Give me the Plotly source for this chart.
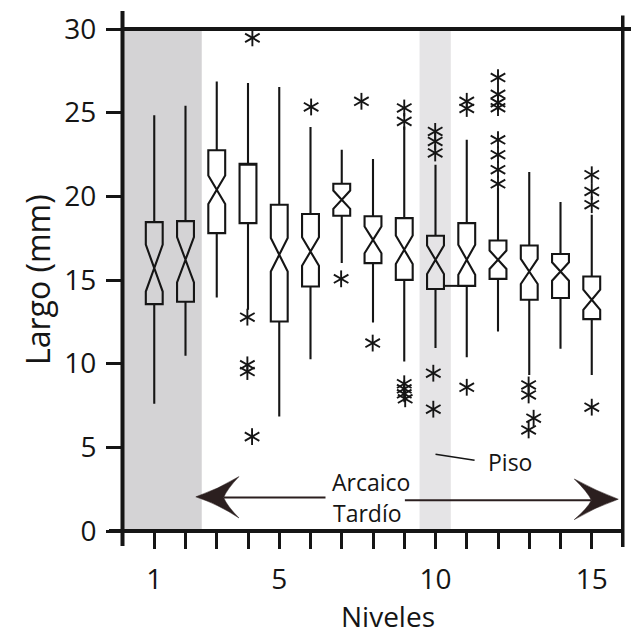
import plotly.graph_objects as go

# ---------------- data ----------------
levels     = [1, 2, 3, 4, 5, 6, 7, 8, 9, 10, 11, 12, 13, 14, 15]
upper      = [24.84, 25.42, 26.87, 26.78, 26.54, 24.14, 22.79, 22.23, 24.18, 21.89, 23.38, 20.50, 21.45, 19.66, 18.90]
q3         = [18.46, 18.52, 22.75, 21.95, 19.50, 18.94, 20.75, 18.81, 18.70, 17.64, 18.40, 17.36, 17.06, 16.55, 15.21]
median     = [15.71, 16.21, 20.39, 21.95, 16.51, 16.70, 19.80, 17.40, 16.81, 16.21, 16.21, 16.21, 15.51, 15.51, 13.82]
q1         = [13.56, 13.70, 17.80, 18.40, 12.52, 14.61, 18.84, 16.01, 15.01, 14.46, 14.65, 15.07, 13.82, 13.92, 12.66]
lower      = [7.60, 10.48, 13.95, 13.22, 6.84, 10.27, 16.01, 12.46, 10.13, 10.93, 10.39, 11.92, 9.33, 10.89, 9.33]
notch_half = [1.40, 1.35, 0.85, 0.00, 1.00, 0.85, 0.55, 0.80, 0.85, 0.85, 0.90, 0.55, 0.75, 0.55, 0.60]

out_x = [4.14, 3.98, 3.98, 3.98, 4.13,
         6.02, 6.98, 7.63, 7.99,
         9.0, 9.0, 9.0, 9.0, 9.0, 9.03,
         9.99, 9.99, 9.99, 9.93, 9.93,
         11.0, 11.0, 11.0,
         12.0, 12.0, 12.0, 12.0, 12.0, 12.0, 12.0, 12.0,
         12.98, 12.98, 13.14, 12.98,
         15.0, 15.0, 15.0, 15.0]
out_y = [29.47, 12.78, 9.93, 9.53, 5.64,
         25.34, 15.07, 25.68, 11.23,
         25.28, 24.48, 8.80, 8.50, 8.20, 7.90,
         23.88, 23.28, 22.59, 9.43, 7.28,
         25.68, 25.25, 8.59,
         27.10, 26.10, 25.60, 25.30, 23.38, 22.49, 21.59, 20.75,
         8.73, 8.13, 6.74, 6.04,
         21.29, 20.29, 19.50, 7.40]

x_ticks = list(range(1, 16))
x_tick_text = ["1", "", "", "", "5", "", "", "", "", "10", "", "", "", "", "15"]
y_ticks = [0, 5, 10, 15, 20, 25, 30]

FONT = "Open Sans"
INK = "#151515"
BOX_W = 0.54

fig = go.Figure()

for i, lv in enumerate(levels):
    notched = notch_half[i] > 0
    kw = dict(notchspan=[notch_half[i]]) if notched else {}
    fig.add_trace(go.Box(
        x=[lv], q1=[q1[i]], median=[median[i]], q3=[q3[i]],
        lowerfence=[lower[i]], upperfence=[upper[i]],
        notched=notched, notchwidth=0.5, width=BOX_W,
        boxpoints=False, whiskerwidth=0,
        line=dict(color=INK, width=2.1),
        fillcolor="rgba(0,0,0,0)", showlegend=False, hoverinfo="skip",
        **kw))

# asterisk outliers: three rotated line markers each
for ang in (0, 60, -60):
    fig.add_trace(go.Scatter(
        x=out_x, y=out_y, mode="markers", showlegend=False, hoverinfo="skip",
        marker=dict(symbol="line-ns-open", size=12, angle=ang, color=INK,
                    line=dict(color=INK, width=1.9))))

# ---------------- shapes ----------------
shapes = []
shapes.append(dict(type="rect", xref="x", yref="y", x0=0, x1=2.52, y0=0, y1=30,
                   fillcolor="#d4d3d5", line_width=0, layer="below"))
shapes.append(dict(type="rect", xref="x", yref="y", x0=9.49, x1=10.49, y0=0, y1=30,
                   fillcolor="#e5e4e6", line_width=0, layer="below"))

def pline(x0, y0, x1, y1, w):
    return dict(type="line", xref="paper", yref="paper", x0=x0, y0=y0, x1=x1, y1=y1,
                line=dict(color=INK, width=w), layer="above")

shapes += [
    pline(-0.001, -0.030, -0.001, 1.036, 4),   # left axis
    pline(-0.028, 0.0, 1.0, 0.0, 4),           # bottom axis
    pline(0.0, 1.0, 1.02, 1.0, 4),             # top line
    pline(0.9995, -0.032, 0.9995, 1.027, 3.5), # right line
]

# small connector from box 10 to the bottom of box 11
shapes.append(dict(type="line", xref="x", yref="y",
                   x0=levels[9] + BOX_W / 2, x1=levels[10] - BOX_W / 2,
                   y0=q1[10], y1=q1[10], line=dict(color=INK, width=2)))

AR = "#2b1f1f"
shapes.append(dict(type="line", xref="x", yref="y", x0=3.22, y0=2.0, x1=6.48, y1=2.0,
                   line=dict(color=AR, width=2)))
shapes.append(dict(type="line", xref="x", yref="y", x0=9.02, y0=1.84, x1=14.99, y1=1.84,
                   line=dict(color=AR, width=2)))
shapes.append(dict(type="path", xref="x", yref="y",
                   path="M 2.33 2.04 Q 3.05 2.5 3.71 3.25 Q 3.33 2.5 3.22 2.0 "
                        "Q 3.33 1.5 3.71 0.78 Q 3.05 1.6 2.33 2.04 Z",
                   fillcolor=AR, line=dict(color=AR, width=0.5)))
shapes.append(dict(type="path", xref="x", yref="y",
                   path="M 15.85 1.90 Q 15.13 2.4 14.44 3.11 Q 14.86 2.35 14.99 1.84 "
                        "Q 14.86 1.35 14.44 0.68 Q 15.13 1.45 15.85 1.90 Z",
                   fillcolor=AR, line=dict(color=AR, width=0.5)))
shapes.append(dict(type="line", xref="x", yref="y", x0=10.0, y0=4.59, x1=11.25, y1=4.23,
                   line=dict(color=INK, width=1.5)))

def ann(text, x, y, size, ref="x", angle=0):
    return dict(text=text, x=x, y=y, xref=ref, yref=("y" if ref == "x" else "paper"),
                showarrow=False, xanchor="center", yanchor="middle", textangle=angle,
                font=dict(family=FONT, size=size, color=INK))

annotations = [
    ann("Arcaico", 7.94, 2.91, 23),
    ann("Tardío", 7.83, 1.09, 23),
    ann("Piso", 12.39, 4.13, 23),
    ann("Niveles", (388 - 123) / 500, (531 - 616) / 502, 28, ref="paper"),
    ann("Largo (mm)", (37 - 123) / 500, (531 - 280) / 502, 32, ref="paper", angle=-90),
]

fig.update_layout(
    width=631, height=638,
    margin=dict(l=123, r=8, t=29, b=107),
    paper_bgcolor="white", plot_bgcolor="white",
    shapes=shapes, annotations=annotations,
    font=dict(family=FONT, color=INK),
    xaxis=dict(range=[0, 16], tickmode="array", tickvals=x_ticks, ticktext=x_tick_text,
               ticks="outside", ticklen=17, tickwidth=3, tickcolor=INK,
               showgrid=False, zeroline=False, showline=False, ticklabelstandoff=6,
               tickfont=dict(family=FONT, size=28, color=INK)),
    yaxis=dict(range=[0, 30], tickmode="array", tickvals=y_ticks,
               ticks="outside", ticklen=16, tickwidth=2.5, tickcolor=INK,
               showgrid=False, zeroline=False, showline=False,
               tickfont=dict(family=FONT, size=28, color=INK), ticklabelstandoff=4),
)

fig.write_html("out.html", config={"displayModeBar": False},
               post_script="document.body.style.margin='0';")
